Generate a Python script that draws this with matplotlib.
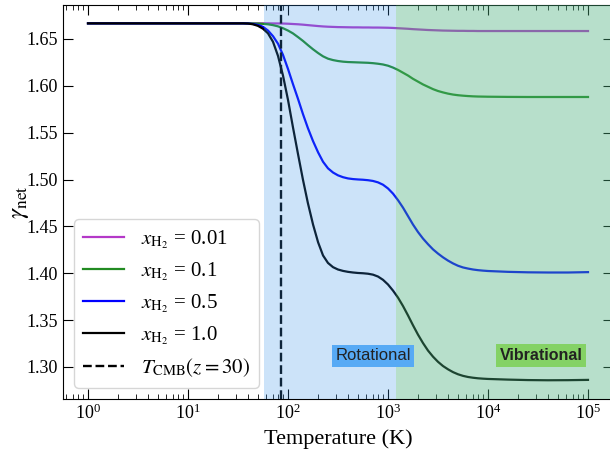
import matplotlib
matplotlib.use("Agg")
import matplotlib.pyplot as plt

# temperature grid (K) and gamma_net for each H2 fraction
temps = [1, 3.16, 10,
         31.6, 35.5, 39.8, 44.7, 50.1, 56.2, 63.1, 70.8, 79.4, 89.1,
         100, 112, 126, 141, 158, 178, 200, 224, 251, 282,
         316, 355, 398, 447, 501, 562, 631, 708, 794, 891,
         1000, 1122, 1259, 1413, 1585, 1778, 1995, 2239, 2512, 2818,
         3162, 3548, 3981, 4467, 5012, 5623, 6310, 7079, 7943, 8913,
         10000, 15849, 25119, 39811, 63096, 100000]

gamma_001 = [1.6667, 1.6667, 1.6667,
             1.6667, 1.6667, 1.6667, 1.6667, 1.6667, 1.6667, 1.6667, 1.6666, 1.6666, 1.6665,
             1.6663, 1.6660, 1.6657, 1.6653, 1.6648, 1.6643, 1.6638, 1.6634, 1.6631, 1.6629,
             1.6627, 1.6626, 1.6625, 1.6624, 1.6624, 1.6623, 1.6623, 1.6622, 1.6622, 1.6621,
             1.6620, 1.6618, 1.6615, 1.6612, 1.6609, 1.6605, 1.6602, 1.6599, 1.6596, 1.6594,
             1.6592, 1.6590, 1.6589, 1.6588, 1.6587, 1.6587, 1.6586, 1.6586, 1.6585, 1.6585,
             1.6585, 1.6585, 1.6585, 1.6585, 1.6585, 1.6585]
gamma_01 = [1.6667, 1.6667, 1.6667,
            1.6667, 1.6667, 1.6667, 1.6666, 1.6665, 1.6662, 1.6657, 1.6648, 1.6635, 1.6615,
            1.6590, 1.6560, 1.6520, 1.6480, 1.6435, 1.6390, 1.6350, 1.6315, 1.6290, 1.6275,
            1.6265, 1.6258, 1.6254, 1.6252, 1.6250, 1.6248, 1.6246, 1.6242, 1.6236, 1.6228,
            1.6215, 1.6195, 1.6170, 1.6140, 1.6110, 1.6075, 1.6045, 1.6015, 1.5990, 1.5965,
            1.5945, 1.5930, 1.5917, 1.5907, 1.5900, 1.5895, 1.5891, 1.5888, 1.5886, 1.5885,
            1.5884, 1.5882, 1.5881, 1.5881, 1.5881, 1.5881]
gamma_05 = [1.6667, 1.6667, 1.6667,
            1.6667, 1.6667, 1.6665, 1.6660, 1.6650, 1.6630, 1.6590, 1.6530, 1.6450, 1.6330,
            1.6180, 1.6020, 1.5860, 1.5700, 1.5550, 1.5410, 1.5290, 1.5190, 1.5120, 1.5075,
            1.5045, 1.5025, 1.5012, 1.5005, 1.5001, 1.4998, 1.4993, 1.4985, 1.4970, 1.4945,
            1.4905, 1.4850, 1.4780, 1.4700, 1.4610, 1.4520, 1.4440, 1.4370, 1.4310, 1.4255,
            1.4210, 1.4170, 1.4135, 1.4105, 1.4080, 1.4062, 1.4050, 1.4040, 1.4033, 1.4028,
            1.4024, 1.4015, 1.4010, 1.4008, 1.4008, 1.4012]
gamma_10 = [1.6667, 1.6667, 1.6667,
            1.6667, 1.6667, 1.6665, 1.6657, 1.6640, 1.6610, 1.6560, 1.6470, 1.6320, 1.6110,
            1.5850, 1.5560, 1.5270, 1.5000, 1.4750, 1.4520, 1.4330, 1.4190, 1.4110, 1.4065,
            1.4040, 1.4025, 1.4015, 1.4008, 1.4003, 1.4000, 1.3995, 1.3985, 1.3965, 1.3930,
            1.3880, 1.3815, 1.3740, 1.3650, 1.3550, 1.3445, 1.3345, 1.3255, 1.3175, 1.3110,
            1.3055, 1.3010, 1.2975, 1.2945, 1.2922, 1.2905, 1.2893, 1.2885, 1.2879, 1.2875,
            1.2872, 1.2865, 1.2860, 1.2858, 1.2859, 1.2862]

series = [(gamma_001, "#b438c8", "$x_{\\rm H_2}$ = 0.01"),
          (gamma_01, "forestgreen", "$x_{\\rm H_2}$ = 0.1"),
          (gamma_05, "blue", "$x_{\\rm H_2}$ = 0.5"),
          (gamma_10, "black", "$x_{\\rm H_2}$ = 1.0")]

T_cmb = 84.5          # 2.725 K * (1 + 30)
rot_range = (57.5, 1200)
vib_range = (1200, 1e6)

plt.rcParams["font.family"] = "Liberation Serif"
plt.rcParams["mathtext.fontset"] = "stix"

fig = plt.figure(figsize=(6.10, 4.53), dpi=100)
ax = fig.add_axes([0.1033, 0.1192, 0.9016, 0.8698])

for g, c, lab in series:
    ax.plot(temps, g, color=c, lw=1.6, label=lab, zorder=2)
ax.axvline(T_cmb, color="black", ls="--", lw=1.7, label=r"$T_{\rm CMB}(z=30)$", zorder=2)

# shaded regimes sit on top of the curves
ax.axvspan(*rot_range, color="#3793eb", alpha=0.25, lw=0, zorder=3)
ax.axvspan(*vib_range, color="#4baf7d", alpha=0.4, lw=0, zorder=3)

ax.text(708, 1.3117, "Rotational", family="Liberation Sans", fontsize=12, color="#222222",
        ha="center", va="center", zorder=6,
        bbox=dict(boxstyle="square,pad=0.22", fc="#57aaf5", ec="none"))
ax.text(33900, 1.3117, "Vibrational", family="Liberation Sans", fontsize=11.5, weight="bold",
        color="#222222", ha="center", va="center", zorder=6,
        bbox=dict(boxstyle="square,pad=0.25", fc="#84d265", ec="none"))

ax.set_xscale("log")
ax.set_xlim(10 ** -0.25, 10 ** 5.25)
ax.set_ylim(1.2658, 1.6863)
ax.set_yticks([1.30, 1.35, 1.40, 1.45, 1.50, 1.55, 1.60, 1.65])
ax.tick_params(which="both", direction="in", top=True, right=True, labelsize=13)
ax.tick_params(which="major", length=7)
ax.tick_params(which="minor", length=3.5)
ax.set_xlabel("Temperature (K)", fontsize=16)
ax.set_ylabel(r"$\gamma_{\rm net}$", fontsize=18)
ax.yaxis.set_label_coords(-0.058, 0.5)

leg = ax.legend(loc="lower left", fontsize=15, borderaxespad=0.55, labelspacing=0.45)
leg.set_zorder(7)

fig.savefig("out.png", dpi=100)
